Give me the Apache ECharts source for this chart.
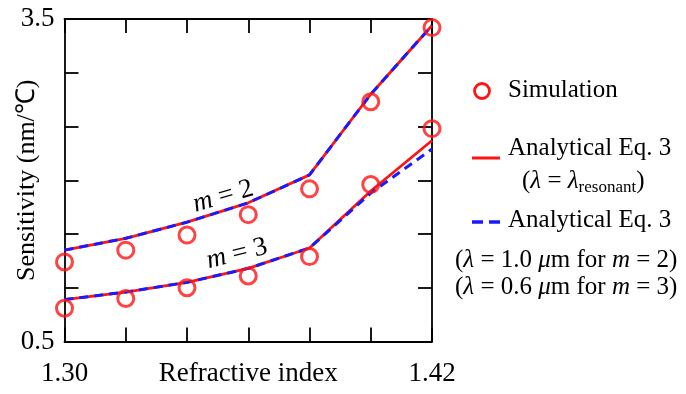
<!DOCTYPE html>
<html>
<head>
<meta charset="utf-8">
<script src="https://cdn.jsdelivr.net/npm/echarts@6/dist/echarts.min.js"></script>
<style>
  html, body { margin: 0; padding: 0; background: #fff; }
  #container { width: 686px; height: 394px; }
</style>
</head>
<body>
<div id="container"></div>
<script>
const refIndex = [1.30, 1.32, 1.34, 1.36, 1.38, 1.40, 1.42];
const simM2 = [1.24, 1.35, 1.49, 1.68, 1.92, 2.73, 3.42];
const simM3 = [0.81, 0.90, 1.00, 1.11, 1.29, 1.96, 2.48];
const eqResM2 = [1.35, 1.46, 1.61, 1.79, 2.05, 2.80, 3.44];
const eqResM3 = [0.89, 0.96, 1.05, 1.18, 1.37, 1.90, 2.37];
const eqFixM2 = [1.35, 1.46, 1.61, 1.79, 2.05, 2.80, 3.44];
const eqFixM3 = [0.89, 0.96, 1.05, 1.18, 1.37, 1.88, 2.29];
const xTickLabels = ['1.30', '1.42'];
const yTickLabels = ['0.5', '3.5'];

const FONT = '"Liberation Serif", "Times New Roman", serif';
const RED = '#ff1414';
const BLUE = '#1a1aff';

const pairs = (ys) => refIndex.map((x, i) => [x, ys[i]]);

const container = document.getElementById('container');
const chart = echarts.init(container, null, { renderer: 'canvas' });

const axisBase = {
  type: 'value',
  axisLine: { show: true, lineStyle: { color: '#000', width: 1.8 } },
  axisTick: { show: true, inside: true, length: 14, lineStyle: { color: '#000', width: 1.8 } },
  splitLine: { show: false }
};

const xFmt = (v) => {
  const s = v.toFixed(2);
  return xTickLabels.indexOf(s) >= 0 ? s : '';
};
const yFmt = (v) => {
  const s = v.toFixed(1);
  return yTickLabels.indexOf(s) >= 0 ? s : '';
};

const lineSeries = (data, color, dashed, z) => ({
  type: 'line',
  data: pairs(data),
  symbol: 'none',
  xAxisIndex: 0,
  yAxisIndex: 0,
  z: z,
  lineStyle: { color: color, width: dashed ? 3 : 2.8, type: dashed ? [9, 6] : 'solid' },
  silent: true,
  animation: false
});

const simSeries = (data) => ({
  type: 'scatter',
  data: pairs(data),
  symbol: 'circle',
  symbolSize: 16,
  z: 5,
  itemStyle: { color: 'rgba(0,0,0,0)', borderColor: RED, borderWidth: 3 },
  silent: true,
  animation: false
});

chart.setOption({
  animation: false,
  grid: { left: 64.5, right: 254, top: 19, bottom: 52.5, containLabel: false, outerBoundsMode: 'none' },
  xAxis: [
    Object.assign({}, axisBase, {
      position: 'bottom', min: 1.30, max: 1.42, interval: 0.02,
      axisLabel: { formatter: xFmt, color: '#000', fontFamily: FONT, fontSize: 27, margin: 19, showMinLabel: true, showMaxLabel: true },
      name: 'Refractive index', nameLocation: 'middle', nameGap: 19, nameMoveOverlap: false,
      nameTextStyle: { color: '#000', fontFamily: FONT, fontSize: 27 }
    }),
    Object.assign({}, axisBase, {
      position: 'top', min: 1.30, max: 1.42, interval: 0.02,
      axisLabel: { show: false }
    })
  ],
  yAxis: [
    Object.assign({}, axisBase, {
      position: 'left', min: 0.5, max: 3.5, interval: 0.5,
      axisLabel: { formatter: yFmt, color: '#000', fontFamily: FONT, fontSize: 27, margin: 10, showMinLabel: true, showMaxLabel: true },
      name: 'Sensitivity (nm/\u2103)', nameLocation: 'middle', nameGap: 24, nameMoveOverlap: false,
      nameTextStyle: { color: '#000', fontFamily: FONT, fontSize: 26 }
    }),
    Object.assign({}, axisBase, {
      position: 'right', min: 0.5, max: 3.5, interval: 0.5,
      axisLabel: { show: false }
    })
  ],
  series: [
    lineSeries(eqResM2, RED, false, 2),
    lineSeries(eqResM3, RED, false, 2),
    lineSeries(eqFixM2, BLUE, true, 3),
    lineSeries(eqFixM3, BLUE, true, 3),
    simSeries(simM2),
    simSeries(simM3)
  ]
});

// legend and curve labels
const legendText = (left, y, text, rich) => ({
  type: 'text',
  left: left,
  top: y - 15,
  style: {
    text: text,
    fontFamily: FONT,
    fontSize: 25,
    fill: '#000',
    lineHeight: 30,
    rich: rich || {}
  }
});

const richLegend = {
  i: { fontFamily: FONT, fontSize: 25, fontStyle: 'italic', lineHeight: 30 },
  n: { fontFamily: FONT, fontSize: 25, lineHeight: 30 },
  sub: { fontFamily: FONT, fontSize: 17, verticalAlign: 'bottom', lineHeight: 18 }
};

const richCurve = {
  i: { fontFamily: FONT, fontSize: 27, fontStyle: 'italic' },
  n: { fontFamily: FONT, fontSize: 27 }
};

const curveLabel = (pos, deg, text) => ({
  type: 'text',
  x: pos[0],
  y: pos[1],
  rotation: deg * Math.PI / 180,
  style: {
    text: text,
    fontFamily: FONT,
    fontSize: 27,
    fill: '#000',
    align: 'center',
    verticalAlign: 'middle',
    rich: richCurve
  }
});

const m2Pos = chart.convertToPixel({ xAxisIndex: 0, yAxisIndex: 0 }, [1.3518, 1.85]);
const m3Pos = chart.convertToPixel({ xAxisIndex: 0, yAxisIndex: 0 }, [1.3563, 1.315]);

chart.setOption({
  graphic: [
    { type: 'circle', shape: { cx: 482, cy: 91, r: 7.5 }, style: { fill: 'none', stroke: RED, lineWidth: 2.8 } },
    legendText(508, 90, 'Simulation'),
    { type: 'line', shape: { x1: 472, y1: 158, x2: 500, y2: 158 }, style: { stroke: RED, lineWidth: 3 } },
    legendText(508, 148, 'Analytical Eq. 3'),
    legendText(522, 181, '{n|(}{i|\u03bb}{n| = }{i|\u03bb}{sub|resonant}{n|)}', richLegend),
    { type: 'line', shape: { x1: 472, y1: 222, x2: 500, y2: 222 }, style: { stroke: BLUE, lineWidth: 3.5, lineDash: [11, 6] } },
    legendText(508, 220, 'Analytical Eq. 3'),
    legendText(455, 260, '{n|(}{i|\u03bb}{n| = 1.0 }{i|\u03bc}{n|m for }{i|m}{n| = 2)}', richLegend),
    legendText(455, 287, '{n|(}{i|\u03bb}{n| = 0.6 }{i|\u03bc}{n|m for }{i|m}{n| = 3)}', richLegend),
    curveLabel(m2Pos, 16, '{i|m}{n| = 2}'),
    curveLabel(m3Pos, 14, '{i|m}{n| = 3}')
  ]
});
</script>
</body>
</html>
